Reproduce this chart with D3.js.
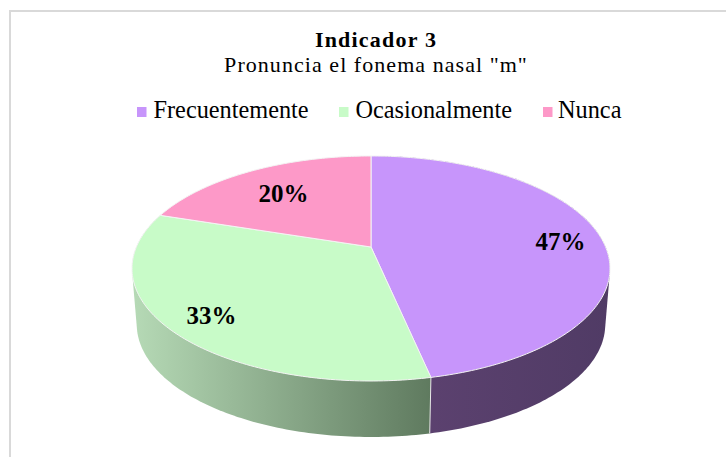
<!DOCTYPE html>
<html>
<head>
<meta charset="utf-8">
<script src="https://cdn.jsdelivr.net/npm/d3@7"></script>
<style>
    html, body { margin: 0; padding: 0; background: #fff; overflow: hidden; }
    text { font-family: "Liberation Serif", serif; fill: #000; }
</style>
</head>
<body>
<div id="chart"></div>
<script>
const categories = ['Frecuentemente', 'Ocasionalmente', 'Nunca'];
const shares = [46.67, 33.33, 20];
const topColors = ['#c795fb', '#c8fbc8', '#fd99c8'];
const wallColors = [['#5f4372', '#503b65'], ['#b6dab6', '#5f7a5f'], ['#995c78', '#995c78']];

const width = 726, height = 457;
const cx = 371, cy = 247;
const rimB = 234.6, rimA = 108.4, persp = 0.191;
const depth = 56, shrink = 0.98;

const svg = d3.select('#chart').append('svg')
    .attr('width', width)
    .attr('height', height);

// frame, only the top and left sides show in the picture
svg.append('path')
    .attr('d', 'M10,457V11H726')
    .attr('fill', 'none')
    .attr('stroke', '#d9d9d9')
    .attr('stroke-width', 2);

svg.append('text').attr('x', 376).attr('y', 47)
    .attr('text-anchor', 'middle')
    .attr('font-size', 22).attr('font-weight', 'bold').attr('letter-spacing', 1.2)
    .text('Indicador 3');
svg.append('text').attr('x', 376).attr('y', 72)
    .attr('text-anchor', 'middle')
    .attr('font-size', 22).attr('letter-spacing', 1.05)
    .text('Pronuncia el fonema nasal "m"');

// legend
const legendX = [137, 339, 543];
const legendTextX = [16.5, 16.5, 15];
const legend = svg.selectAll('.legend').data(categories).enter().append('g')
    .attr('class', 'legend')
    .attr('transform', (d, i) => 'translate(' + legendX[i] + ',107)');
legend.append('rect').attr('width', 9.5).attr('height', 10)
    .attr('fill', (d, i) => topColors[i]);
legend.append('text').attr('x', (d, i) => legendTextX[i]).attr('y', 11)
    .attr('font-size', 24.3)
    .text(d => d);

// projects an angle on the disc, nearer side comes out larger
function rim(angle) {
    let u = Math.sin(angle), v = -Math.cos(angle);
    let w = 1 - persp * v;
    return [cx + rimB * u / w, cy + rimA * v / w];
}
function lower(p) {
    return [cx + (p[0] - cx) * shrink, p[1] + depth];
}

const pie = d3.pie().sort(null).value(d => d);
const arcs = pie(shares);
const total = d3.sum(shares);
const line = d3.line();

function arcPoints(d) {
    let n = Math.ceil((d.endAngle - d.startAngle) * 60);
    return d3.range(n + 1).map(i => rim(d.startAngle + (d.endAngle - d.startAngle) * i / n));
}

const defs = svg.append('defs');
wallColors.forEach((c, i) => {
    let g = defs.append('linearGradient').attr('id', 'wall' + i);
    g.append('stop').attr('offset', '0%').attr('stop-color', c[0]);
    g.append('stop').attr('offset', '100%').attr('stop-color', c[1]);
});

// walls first, the top face covers the back half of them
[0, 1].forEach(i => {
    let pts = arcPoints(arcs[i]);
    let hull = d3.polygonHull(pts.concat(pts.map(lower)));
    svg.append('path')
        .attr('d', line(hull) + 'Z')
        .attr('fill', 'url(#wall' + i + ')');
});
let seam = rim(arcs[0].endAngle);
svg.append('path')
    .attr('d', line([seam, lower(seam)]))
    .attr('stroke', '#e8e8e8')
    .attr('stroke-width', 1);

svg.selectAll('.slice').data(arcs).enter().append('path')
    .attr('class', 'slice')
    .attr('d', d => line([[cx, cy]].concat(arcPoints(d))) + 'Z')
    .attr('fill', (d, i) => topColors[i])
    .attr('stroke', '#f4f4f4')
    .attr('stroke-width', 1)
    .attr('stroke-linejoin', 'round');

// labels
const labelPos = [[560.5, 241], [211.5, 315], [283.5, 193]];
svg.selectAll('.label').data(arcs).enter().append('text')
    .attr('class', 'label')
    .attr('x', (d, i) => labelPos[i][0])
    .attr('y', (d, i) => labelPos[i][1])
    .attr('dy', '0.35em')
    .attr('text-anchor', 'middle')
    .attr('font-size', 25)
    .attr('font-weight', 'bold')
    .text(d => d3.format('.0%')(d.value / total));
</script>
</body>
</html>
